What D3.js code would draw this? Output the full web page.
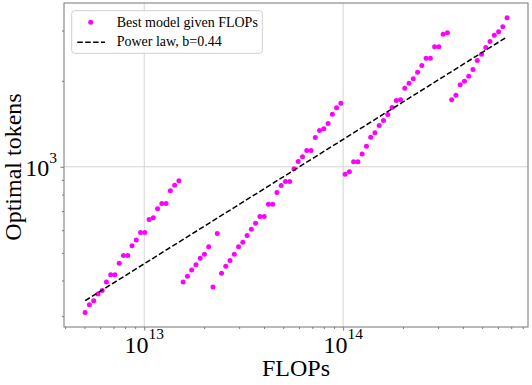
<!DOCTYPE html>
<html><head><meta charset="utf-8">
<script src="https://cdn.jsdelivr.net/npm/d3@7"></script>
<style>html,body{margin:0;padding:0;background:#fff;} svg{display:block;}</style>
</head><body><svg id="chart" width="532" height="385"></svg>
<script>
// FLOP budgets (in units of 1e12)
const flopsE12 = [
  5.045, 5.300, 5.568, 5.850, 6.146, 6.457, 6.783, 7.126, 7.487, 7.866,
  8.264, 8.682, 9.121, 9.582, 10.07, 10.58, 11.11, 11.67, 12.26, 12.88,
  13.53, 14.22, 14.94, 15.69, 16.49, 17.32, 18.20, 19.12, 20.08, 21.10,
  22.17, 23.29, 24.47, 25.70, 27.00, 28.37, 29.80, 31.31, 32.90, 34.56,
  36.31, 38.15, 40.08, 42.10, 44.23, 46.47, 48.82, 51.29, 53.88, 56.61,
  59.47, 62.48, 65.64, 68.96, 72.45, 76.11, 79.96, 84.01, 88.26, 92.72,
  97.41, 102.3, 107.5, 112.9, 118.6, 124.6, 131.0, 137.6, 144.5, 151.8,
  159.5, 167.6, 176.1, 185.0, 194.3, 204.2, 214.5, 225.3, 236.7, 248.7,
  261.3, 274.5, 288.4, 303.0, 318.3, 334.4, 351.3, 369.1, 387.8, 407.4,
  428.0, 449.6, 472.4, 496.3, 521.4, 547.8, 575.5, 604.6, 635.2, 667.3
];
// Optimal tokens of the best model for each budget
const optimalTokens = [
  309, 329, 340, 359, 369, 395, 419, 419, 460, 489,
  489, 529, 554, 589, 589, 654, 663, 713, 744, 744,
  824, 862, 893, 395, 414, 435, 454, 479, 494, 525,
  380, 584, 424, 449, 470, 494, 525, 545, 575, 605,
  635, 670, 670, 740, 740, 813, 860, 888, 888, 984,
  1044, 1084, 1141, 1141, 1266, 1340, 1358, 1418, 1528, 1609,
  1670, 942, 961, 1041, 1041, 1110, 1181, 1269, 1315, 1395,
  1453, 1524, 1613, 1707, 1716, 1884, 1962, 2032, 2143, 2262,
  2400, 2400, 2630, 2630, 2912, 2944, 1716, 1781, 1936, 1993,
  2075, 2191, 2356, 2478, 2616, 2746, 2888, 2968, 3090, 3323
];
// Power-law fit line endpoints
const fitFlops = [5.05e12, 6.67e14];
const fitTokens = [340, 2850];
const xMajorTicks = [1e13, 1e14];
const xMajorExp = ["13", "14"];
const yMajorTicks = [1e3];
const yMajorExp = ["3"];
const legendLabels = ["Best model given FLOPs", "Power law, b=0.44"];
const xTitle = "FLOPs";
const yTitle = "Optimal tokens";

const L = 64, R = 528, T = 3, B = 327;
const FONT = "'Liberation Serif','Times New Roman',serif";
const svg = d3.select("#chart");
const x = d3.scaleLog().domain([3.95e12, 8.5e14]).range([L, R]);
const y = d3.scaleLog().domain([275, 3745]).range([B, T]);

// grid
const g = svg.append("g");
g.selectAll("line.gx").data(xMajorTicks).join("line")
  .attr("x1", d => x(d)).attr("x2", d => x(d)).attr("y1", T).attr("y2", B)
  .attr("stroke", "#d4d4d4").attr("stroke-width", 1);
g.selectAll("line.gy").data(yMajorTicks).join("line")
  .attr("y1", d => y(d)).attr("y2", d => y(d)).attr("x1", L).attr("x2", R)
  .attr("stroke", "#d4d4d4").attr("stroke-width", 1);

// axes ticks
const xMinor = x.ticks().filter(v => !xMajorTicks.some(m => Math.abs(m - v) / m < 1e-6));
const yMinor = y.ticks().filter(v => !yMajorTicks.some(m => Math.abs(m - v) / m < 1e-6));
const tickCol = "#555";
function styleAxis(sel) {
  sel.select(".domain").remove();
  sel.selectAll(".tick line").attr("stroke", tickCol).attr("stroke-width", 0.8);
  sel.selectAll(".tick text").remove();
}
svg.append("g").attr("transform", `translate(0,${B})`)
  .call(d3.axisBottom(x).tickValues(xMinor).tickSize(2).tickFormat("")).call(styleAxis);
svg.append("g").attr("transform", `translate(0,${B})`)
  .call(d3.axisBottom(x).tickValues(xMajorTicks).tickSize(3.5).tickFormat("")).call(styleAxis);
svg.append("g").attr("transform", `translate(${L},0)`)
  .call(d3.axisLeft(y).tickValues(yMinor).tickSize(2).tickFormat("")).call(styleAxis);
svg.append("g").attr("transform", `translate(${L},0)`)
  .call(d3.axisLeft(y).tickValues(yMajorTicks).tickSize(3.5).tickFormat("")).call(styleAxis);

// tick labels
xMajorTicks.forEach((v, i) => {
  const t = svg.append("text").attr("x", x(v)).attr("y", B + 25.7)
    .attr("text-anchor", "middle").attr("font-family", FONT).attr("font-size", 24).attr("fill", "#000");
  t.append("tspan").text("10");
  t.append("tspan").attr("dy", -14).attr("font-size", 15.5).text(xMajorExp[i]);
});
yMajorTicks.forEach((v, i) => {
  const t = svg.append("text").attr("x", L - 7).attr("y", y(v) + 9)
    .attr("text-anchor", "end").attr("font-family", FONT).attr("font-size", 24).attr("fill", "#000");
  t.append("tspan").text("10");
  t.append("tspan").attr("dy", -13).attr("font-size", 15.5).text(yMajorExp[i]);
});

// data points
const pts = flopsE12.map((f, i) => ({ f: f * 1e12, t: optimalTokens[i] }));
svg.append("g").selectAll("circle").data(pts).join("circle")
  .attr("cx", d => x(d.f)).attr("cy", d => y(d.t)).attr("r", 2.5).attr("fill", "#ff00ff");

// power law line
const fit = fitFlops.map((f, i) => [f, fitTokens[i]]);
svg.append("path").datum(fit)
  .attr("d", d3.line().x(d => x(d[0])).y(d => y(d[1])))
  .attr("fill", "none").attr("stroke", "#000").attr("stroke-width", 1.5)
  .attr("stroke-dasharray", "5.5,2.4");

// frame
svg.append("rect").attr("x", L).attr("y", T).attr("width", R - L).attr("height", B - T)
  .attr("fill", "none").attr("stroke", "#808080").attr("stroke-width", 1.1);

// titles
svg.append("text").attr("x", (L + R) / 2).attr("y", 376).attr("text-anchor", "middle")
  .attr("font-family", FONT).attr("font-size", 24).attr("fill", "#000").text(xTitle);
svg.append("text").attr("transform", `translate(20.5,167) rotate(-90)`).attr("text-anchor", "middle")
  .attr("font-family", FONT).attr("font-size", 24).attr("fill", "#000").text(yTitle);

// legend
const lg = svg.append("g");
lg.append("rect").attr("x", 71.7).attr("y", 10.7).attr("width", 190.6).attr("height", 42.6)
  .attr("rx", 3).attr("fill", "#fff").attr("fill-opacity", 0.8)
  .attr("stroke", "#d0d0d0").attr("stroke-width", 1);
lg.append("circle").attr("cx", 90.7).attr("cy", 22.3).attr("r", 2.5).attr("fill", "#ff00ff");
lg.append("line").attr("x1", 77.3).attr("x2", 105).attr("y1", 42.3).attr("y2", 42.3)
  .attr("stroke", "#000").attr("stroke-width", 1.5).attr("stroke-dasharray", "5.5,2.4");
lg.selectAll("text").data(legendLabels).join("text")
  .attr("x", 116.7).attr("y", (d, i) => 26.8 + i * 19)
  .attr("font-family", FONT).attr("font-size", 14).attr("fill", "#000").text(d => d);
</script>
</body></html>
